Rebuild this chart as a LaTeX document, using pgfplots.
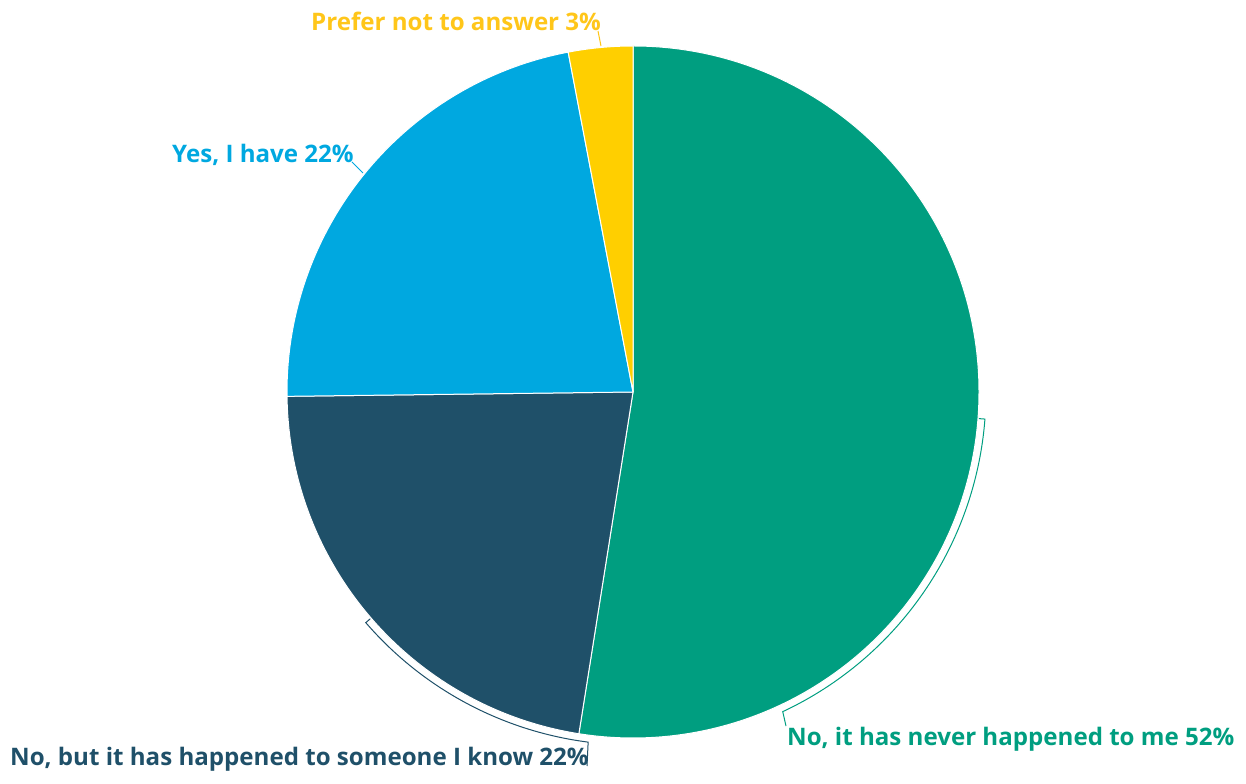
\documentclass[border=0pt]{standalone}
\usepackage{pgfplots}
\pgfplotsset{compat=1.18}
\usepackage{fontspec}
\setmainfont{Open Sans}
\definecolor{cgreen}{HTML}{009E80}
\definecolor{cdark}{HTML}{1F5069}
\definecolor{clight}{HTML}{00A8E0}
\definecolor{cyel}{HTML}{FFCF00}
\definecolor{cyeltxt}{HTML}{FFC61A}
\begin{document}
\begin{tikzpicture}
\begin{axis}[
  width=1246bp, height=783bp, scale only axis,
  xmin=0, xmax=1246, ymin=0, ymax=783,
  hide axis, clip=false,
]
% shares (percent), clockwise from 12 o'clock:
% never happened 52.5, someone I know 22.3, yes 22.2, prefer not 3.0
\addplot[draw=none] coordinates {(0,0) (1246,783)};
\fill[cgreen, draw=white, line width=1bp] (axis cs:633,391) -- ++(90:346bp)
  arc[start angle=90, end angle={90-3.6*52.5}, radius=346bp] -- cycle;
\fill[cdark, draw=white, line width=1bp] (axis cs:633,391) -- ++({90-3.6*52.5}:346bp)
  arc[start angle={90-3.6*52.5}, end angle={90-3.6*(52.5+22.3)}, radius=346bp] -- cycle;
\fill[clight, draw=white, line width=1bp] (axis cs:633,391) -- ++({90-3.6*(52.5+22.3)}:346bp)
  arc[start angle={90-3.6*(52.5+22.3)}, end angle={90-3.6*(52.5+22.3+22.2)}, radius=346bp] -- cycle;
\fill[cyel, draw=white, line width=1bp] (axis cs:633,391) -- ++({90-3.6*(52.5+22.3+22.2)}:346bp)
  arc[start angle={90-3.6*(52.5+22.3+22.2)}, end angle={90-3.6*(52.5+22.3+22.2+3.0)}, radius=346bp] -- cycle;
% callout brackets
\draw[cgreen, line width=1bp] (axis cs:633,391) ++(-4.4:347bp) -- ++(-4.4:6bp)
  arc[start angle=-4.4, end angle=-64.9, radius=353bp] -- (axis cs:786,57);
\draw[cdark, line width=1bp] (axis cs:633,391) ++(-139.2:347bp) -- ++(-139.2:6bp)
  arc[start angle=-139.2, end angle=-97.3, radius=353bp] -- (axis cs:587,17);
\draw[cyeltxt, line width=1bp] (axis cs:601,737) -- (axis cs:598,752);
\draw[clight, line width=1bp] (axis cs:363,610) -- (axis cs:352,621);
% labels
\tikzset{lbl/.style={anchor=base west, inner sep=0, font=\bfseries\fontsize{24.2}{28}\selectfont}}
\node[lbl, text=cyeltxt] at (axis cs:311,752) {Prefer not to answer 3\%};
\node[lbl, text=clight] at (axis cs:172,620) {Yes, I have 22\%};
\node[lbl, text=cdark] at (axis cs:10,18) {No, but it has happened to someone I know 22\%};
\node[lbl, text=cgreen] at (axis cs:787,38) {No, it has never happened to me 52\%};
\end{axis}
\end{tikzpicture}
\end{document}
